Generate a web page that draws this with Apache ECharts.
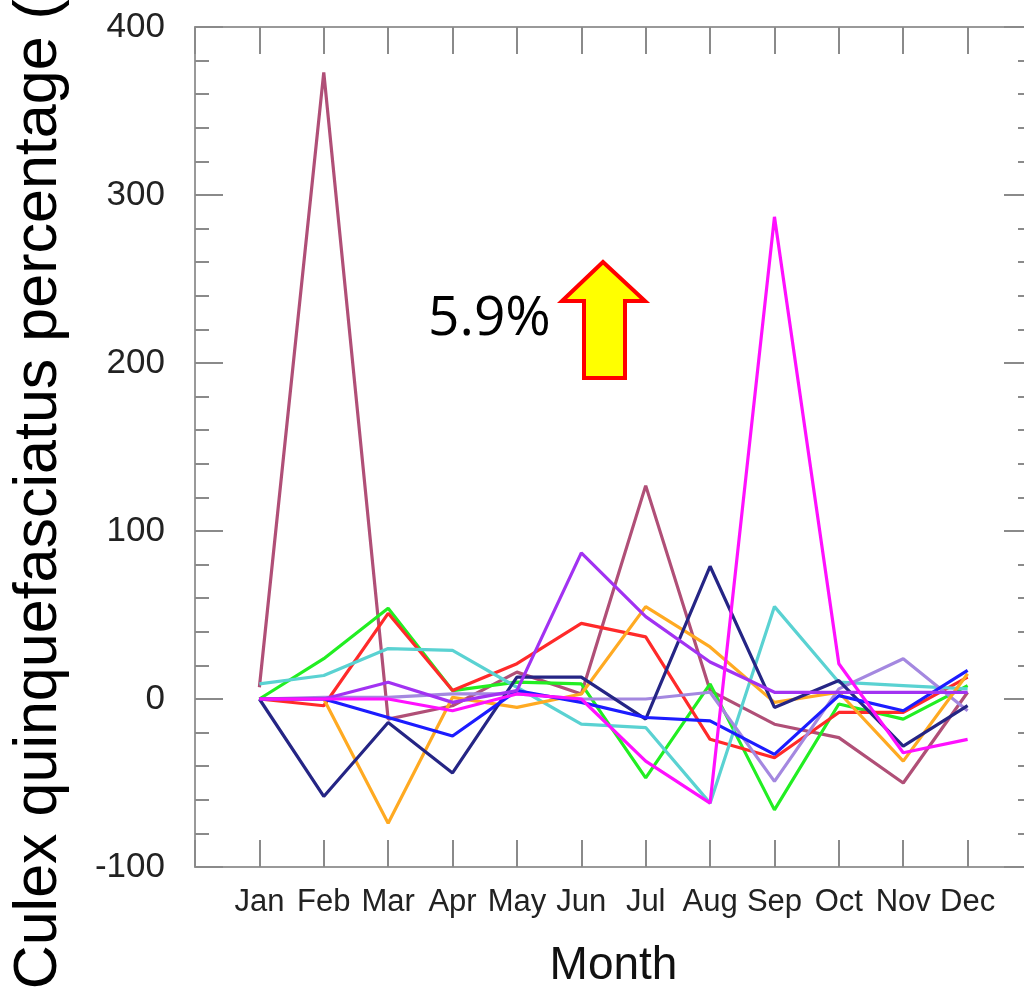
<!DOCTYPE html>
<html>
<head>
<meta charset="utf-8">
<script src="https://cdn.jsdelivr.net/npm/echarts@6/dist/echarts.min.js"></script>
<style>
  html, body { margin: 0; padding: 0; background: #fff; }
  #main { width: 1024px; height: 990px; }
</style>
</head>
<body>
<div id="main"></div>
<script>
var months = ['Jan', 'Feb', 'Mar', 'Apr', 'May', 'Jun', 'Jul', 'Aug', 'Sep', 'Oct', 'Nov', 'Dec'];

// one array per line, Jan..Dec (%)
var maroonLine  = [7, 373, -12, -4, 16, 3, 127, 5, -15, -23, -50, 4];
var greenLine   = [0, 24, 54, 5, 10, 9, -47, 9, -66, -3, -12, 8];
var redLine     = [0, -4, 51, 5, 21, 45, 37, -24, -35, -8, -8, 13];
var cyanLine    = [9, 14, 30, 29, 7, -15, -17, -62, 55, 10, 8, 6];
var purpleLine  = [0, 0, 10, -2, 5, 87, 49, 22, 4, 4, 4, 4];
var magentaLine = [0, 0, 0, -7, 3, 0, -37, -62, 287, 21, -32, -24];
var blueLine    = [0, 0, -11, -22, 5, -2, -11, -13, -33, 2, -7, 17];
var navyLine    = [0, -58, -14, -44, 13, 13, -12, 79, -5, 11, -28, -4];
var orangeLine  = [0, 0, -74, 1, -5, 3, 55, 31, -2, 4, -37, 15];
var lavenderLine = [0, 1, 1, 3, 3, 0, 0, 4, -49, 6, 24, -7];

var yTicks = [-100, 0, 100, 200, 300, 400];

var lines = [
  { data: maroonLine, color: '#b04f77' },
  { data: greenLine, color: '#22ee22' },
  { data: redLine, color: '#ff2a2a' },
  { data: cyanLine, color: '#5ad2d2' },
  { data: lavenderLine, color: '#a488e0' },
  { data: orangeLine, color: '#ffaa22' },
  { data: navyLine, color: '#252585' },
  { data: blueLine, color: '#1c1cff' },
  { data: purpleLine, color: '#a232f2' },
  { data: magentaLine, color: '#ff10ff' }
];

function toPoints(arr) {
  return arr.map(function (v, i) { return [i + 1, v]; });
}

var chart = echarts.init(document.getElementById('main'));

var frameColor = '#999999';
var tickStyle = { color: '#8a8a8a', width: 2 };

var option = {
  backgroundColor: '#ffffff',
  animation: false,
  grid: { left: 195, top: 27, width: 837, height: 840, outerBoundsMode: 'none', containLabel: false },
  xAxis: [{
    type: 'value',
    min: 0,
    max: 13,
    interval: 1,
    position: 'bottom',
    name: 'Month',
    nameLocation: 'middle',
    nameGap: 76,
    nameTextStyle: { fontSize: 46, color: '#111', fontFamily: 'Liberation Sans' },
    axisLine: { show: true, onZero: false, lineStyle: { color: frameColor, width: 2 } },
    axisTick: { show: true, inside: true, length: 27, lineStyle: tickStyle },
    axisLabel: {
      margin: 20,
      fontSize: 31,
      color: '#222',
      fontFamily: 'Liberation Sans',
      formatter: function (v) { return months[v - 1] || ''; }
    },
    splitLine: { show: false }
  }, {
    type: 'value',
    min: 0,
    max: 13,
    interval: 1,
    position: 'top',
    axisLine: { show: true, onZero: false, lineStyle: { color: frameColor, width: 2 } },
    axisTick: { show: true, inside: true, length: 27, lineStyle: tickStyle },
    axisLabel: { show: false },
    splitLine: { show: false }
  }],
  yAxis: [{
    type: 'value',
    min: yTicks[0],
    max: yTicks[yTicks.length - 1],
    interval: 100,
    position: 'left',
    name: 'Culex quinquefasciatus percentage (%)',
    nameLocation: 'middle',
    nameGap: 125,
    nameTextStyle: { fontSize: 61, color: '#000', fontFamily: 'Liberation Sans', padding: [0, 20, 0, 0] },
    axisLine: { show: true, onZero: false, lineStyle: { color: frameColor, width: 2 } },
    axisTick: { show: true, inside: true, length: 28, lineStyle: tickStyle },
    minorTick: { show: true, splitNumber: 5, length: 14, lineStyle: tickStyle },
    axisLabel: { margin: 30, fontSize: 35, color: '#222', fontFamily: 'Liberation Sans' },
    splitLine: { show: false }
  }, {
    type: 'value',
    min: yTicks[0],
    max: yTicks[yTicks.length - 1],
    interval: 100,
    position: 'right',
    axisLine: { show: true, onZero: false, lineStyle: { color: frameColor, width: 2 } },
    axisTick: { show: true, inside: true, length: 28, lineStyle: tickStyle },
    minorTick: { show: true, splitNumber: 5, length: 14, lineStyle: tickStyle },
    axisLabel: { show: false },
    splitLine: { show: false }
  }],
  series: lines.map(function (l) {
    return {
      type: 'line',
      data: toPoints(l.data),
      symbol: 'none',
      lineStyle: { color: l.color, width: 3.2 },
      itemStyle: { color: l.color }
    };
  }),
  graphic: [{
    type: 'text',
    left: 428,
    top: 292,
    style: { text: '5.9%', fontSize: 55, fill: '#000', fontFamily: 'Open Sans' }
  }, {
    type: 'polygon',
    shape: {
      points: [[603, 262], [562, 301], [584, 301], [584, 378], [625, 378], [625, 301], [645, 301]]
    },
    style: { fill: '#ffff00', stroke: '#ff0000', lineWidth: 4 }
  }]
};

chart.setOption(option);
</script>
</body>
</html>
